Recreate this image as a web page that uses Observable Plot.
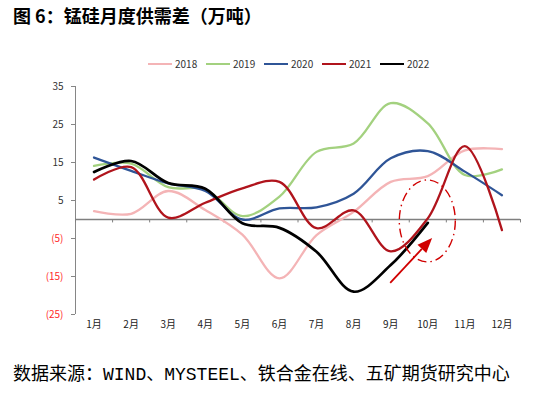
<!DOCTYPE html>
<html><head><meta charset="utf-8">
<script src="https://cdn.jsdelivr.net/npm/d3@7"></script>
<script src="https://cdn.jsdelivr.net/npm/@observablehq/plot@0.6"></script>
<style>
body{margin:0;background:#fff;width:544px;height:396px;position:relative;overflow:hidden;font-family:"Noto Sans CJK SC","Noto Sans",sans-serif;}
#title{position:absolute;left:13px;top:5px;font-size:18px;line-height:20px;font-weight:bold;color:#000;white-space:nowrap;}
#legend{position:absolute;left:148px;top:57px;display:flex;font-size:10px;line-height:14px;color:#333;}
.item{display:flex;align-items:center;width:58px}
.sw{width:24px;height:2.5px;margin-right:3px}
#chart{position:absolute;left:0;top:76px;}
#caption{position:absolute;left:13px;top:364px;font-size:18px;line-height:22px;color:#000;white-space:nowrap;font-family:"Liberation Mono","Noto Sans CJK SC",monospace;}
</style></head>
<body>
<div id="title">图 6：锰硅月度供需差（万吨）</div>
<div id="legend"></div>
<div id="chart"></div>
<div id="caption">数据来源：WIND、MYSTEEL、铁合金在线、五矿期货研究中心</div>
<script>
const months = ["1月","2月","3月","4月","5月","6月","7月","8月","9月","10月","11月","12月"];
const s2018 = [2.2, 1.5, 7.5, 2.5, -4, -15.5, -4.1, 2.0, 9.9, 11.4, 18.2, 18.5];
const s2019 = [14.1, 14.7, 8.5, 7.9, 0.9, 6.0, 17.8, 20.0, 30.6, 25.3, 11.7, 13.2];
const s2020 = [16.3, 12.8, 9.5, 7.5, 0.0, 2.9, 3.2, 6.8, 16.1, 18.0, 12.6, 6.4];
const s2021 = [10.5, 13.8, 0.5, 4.4, 8.2, 9.9, -2.3, 2.4, -8.4, 0.3, 19.3, -2.8];
const s2022 = [12.5, 15.4, 9.6, 8.1, -1.0, -2.2, -8.5, -19.0, -12.0, -0.9];
const years = ["2018","2019","2020","2021","2022"];
const colors = ["#f4b4b6","#a3d17f","#2f5597","#b0141c","#000000"];
const yTicks = [-25,-15,-5,5,15,25,35];
const bounds = [0.5,1.5,2.5,3.5,4.5,5.5,6.5,7.5,8.5,9.5,10.5,11.5,12.5];
// annotation (data units): ellipse around Oct, arrow rising toward it
const ellipseCenter = {m: 10, v: -0.5};
const arrowFrom = {m: 9.0, v: -16.8};
const arrowTo = {m: 10.13, v: -5.0};

const seriesList = [s2018, s2019, s2020, s2021, s2022];
const rows = seriesList.map((s, k) => s.map((v, i) => ({year: years[k], m: i + 1, v})));

const legend = document.getElementById("legend");
years.forEach((y, k) => {
  const it = document.createElement("div"); it.className = "item";
  const sw = document.createElement("div"); sw.className = "sw"; sw.style.background = colors[k];
  const t = document.createElement("span"); t.textContent = y;
  it.appendChild(sw); it.appendChild(t); legend.appendChild(it);
});

const font = '"Noto Sans CJK SC","Noto Sans",sans-serif';
const chart = Plot.plot({
  width: 544, height: 262,
  marginLeft: 75, marginRight: 24, marginTop: 10, marginBottom: 24,
  x: {domain: [0.5, 12.5], axis: null},
  y: {domain: [-25, 35], axis: null},
  style: {fontFamily: font, fontSize: "10px", background: "white", color: "#333"},
  marks: [
    Plot.ruleX([0.5], {y1: -25, y2: 35, stroke: "#868686", strokeWidth: 1}),
    Plot.axisY(yTicks, {tickSize: 4, tickFormat: () => "", stroke: "#868686", label: null}),
    Plot.text(yTicks.filter(d => d >= 0), {y: d => d, frameAnchor: "left", dx: -12, textAnchor: "end", text: d => String(d), fill: "#333"}),
    Plot.text(yTicks.filter(d => d < 0), {y: d => d, frameAnchor: "left", dx: -12, textAnchor: "end", text: d => `(${-d})`, fill: "#ff2a2a"}),
    Plot.ruleY([0], {stroke: "#7f7f7f", strokeWidth: 1.6}),
    Plot.ruleX(bounds, {y1: 0, y2: -0.9, stroke: "#7f7f7f", strokeWidth: 1}),
    Plot.text(months, {x: (d, i) => i + 1, frameAnchor: "bottom", dy: 13, text: d => d, fill: "#222"}),
    ...rows.map((r, k) => Plot.line(r, {x: "m", y: "v", stroke: colors[k], strokeWidth: k === 4 ? 2.7 : 2.3, curve: "catmull-rom"}))
  ]
});
document.getElementById("chart").appendChild(chart);

const sx = chart.scale("x"), sy = chart.scale("y");
const svg = d3.select(chart);
const red = "#d00000";
svg.append("ellipse")
  .attr("cx", sx.apply(ellipseCenter.m)).attr("cy", sy.apply(ellipseCenter.v))
  .attr("rx", 28).attr("ry", 41)
  .attr("fill", "none").attr("stroke", red).attr("stroke-width", 1.4)
  .attr("stroke-dasharray", "9 4 1.5 4");
const x1 = sx.apply(arrowFrom.m), y1 = sy.apply(arrowFrom.v);
const x2 = sx.apply(arrowTo.m), y2 = sy.apply(arrowTo.v);
const ang = Math.atan2(y2 - y1, x2 - x1), L = 15, W = 6;
const bx = x2 - L * Math.cos(ang), by = y2 - L * Math.sin(ang);
svg.append("line").attr("x1", x1).attr("y1", y1).attr("x2", bx).attr("y2", by)
  .attr("stroke", red).attr("stroke-width", 1.8);
svg.append("polygon")
  .attr("points", [[x2, y2], [bx + W * Math.sin(ang), by - W * Math.cos(ang)], [bx - W * Math.sin(ang), by + W * Math.cos(ang)]].map(p => p.join(",")).join(" "))
  .attr("fill", red);
</script>
</body></html>
